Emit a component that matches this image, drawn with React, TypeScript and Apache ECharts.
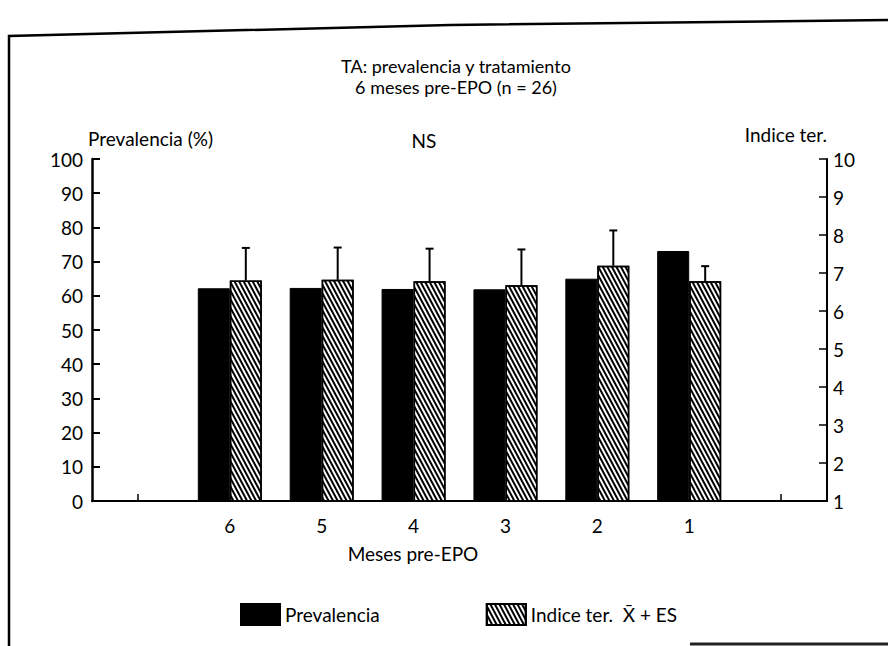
import React, { useEffect, useRef } from "react";
import * as echarts from "echarts";

// ---- data ----
const categories = ["", "6", "5", "4", "3", "2", "1", ""];
const prevalencia = ["-", 62.2, 62.3, 62.0, 61.9, 65.0, 73.1, "-"]; // %
const indiceMedia = ["-", 6.8, 6.82, 6.78, 6.68, 7.19, 6.78, "-"]; // mean
const indiceES = [null, 0.86, 0.85, 0.86, 0.94, 0.93, 0.4, null]; // standard error
const leftAxis = { min: 0, max: 100, interval: 10 };
const rightAxis = { min: 1, max: 10, interval: 1 };

const titleLine1 = "TA: prevalencia y tratamiento";
const titleLine2 = "6 meses pre-EPO (n = 26)";
const nameLeft = "Prevalencia (%)";
const nameRight = "Indice ter.";
const xName = "Meses pre-EPO";
const noteText = "NS";
const seriesNames = ["Prevalencia", "Indice ter.  X\u0304 + ES"];

const FONT = "Lato";
const BAR_W = 32;

export default function App() {
  const ref = useRef<HTMLDivElement>(null);
  useEffect(() => {
    if (!ref.current) return;
    const chart = echarts.init(ref.current, null, { renderer: "svg" });

    const errData: any[] = [];
    categories.forEach((c, i) => {
      const m = indiceMedia[i];
      const e = indiceES[i];
      if (typeof m === "number" && typeof e === "number") {
        errData.push([i, m, m + e]);
      }
    });

    const hatch = {
      symbol: "rect",
      symbolSize: 1,
      dashArrayX: [1, 0],
      dashArrayY: [1.8, 1.8],
      rotation: Math.PI * 62 / 180,
      color: "#000",
      backgroundColor: "#fff",
    };

    const baseText = { fontFamily: FONT, fontSize: 19, color: "#000" };

    const option: any = {
      animation: false,
      backgroundColor: "#fff",
      textStyle: { fontFamily: FONT, color: "#000" },
      title: {
        text: titleLine1,
        subtext: titleLine2,
        left: 451,
        top: 52,
        itemGap: 3,
        textAlign: "center",
        textStyle: { fontFamily: FONT, fontSize: 18, color: "#000", fontWeight: "normal", lineHeight: 18 },
        subtextStyle: { fontFamily: FONT, fontSize: 18, color: "#000", fontWeight: "normal", lineHeight: 18 },
      },
      legend: {
        data: seriesNames,
        left: 235,
        top: 598,
        itemWidth: 39,
        itemHeight: 21,
        itemGap: 106,
        icon: "rect",
        textStyle: { ...baseText },
      },
      grid: { left: 92, right: 61, top: 159, bottom: 145 },
      xAxis: {
        type: "category",
        data: categories,
        boundaryGap: true,
        axisLine: { lineStyle: { color: "#000", width: 2 } },
        axisTick: {
          show: true,
          alignWithLabel: true,
          inside: true,
          length: 7,
          interval: (i: number) => i === 0 || i === categories.length - 1,
          lineStyle: { color: "#000", width: 1.5 },
        },
        axisLabel: { interval: 0, margin: 15, ...baseText },
      },
      yAxis: [
        {
          type: "value",
          position: "left",
          min: leftAxis.min,
          max: leftAxis.max,
          interval: leftAxis.interval,
          name: nameLeft,
          nameLocation: "end",
          nameGap: 11,
          nameTextStyle: { ...baseText, align: "left", padding: [0, 0, 0, -4] },
          axisLine: { show: true, lineStyle: { color: "#000", width: 2.5 } },
          axisTick: { show: true, inside: true, length: 8, lineStyle: { color: "#000", width: 2 } },
          axisLabel: { margin: 9, ...baseText },
          splitLine: { show: false },
        },
        {
          type: "value",
          position: "right",
          min: rightAxis.min,
          max: rightAxis.max,
          interval: rightAxis.interval,
          name: nameRight,
          nameLocation: "end",
          nameGap: 15,
          nameTextStyle: { ...baseText, align: "right" },
          axisLine: { show: true, lineStyle: { color: "#000", width: 2 } },
          axisTick: { show: true, inside: true, length: 8, lineStyle: { color: "#000", width: 1.5 } },
          axisLabel: { margin: 6, ...baseText },
          splitLine: { show: false },
        },
      ],
      series: [
        {
          name: seriesNames[0],
          type: "bar",
          yAxisIndex: 0,
          data: prevalencia,
          barWidth: BAR_W,
          barGap: "0%",
          itemStyle: { color: "#000", borderColor: "#000", borderWidth: 1 },
        },
        {
          name: seriesNames[1],
          type: "bar",
          yAxisIndex: 1,
          data: indiceMedia,
          barWidth: BAR_W,
          barGap: "0%",
          itemStyle: {
            color: "#fff",
            borderColor: "#000",
            borderWidth: 1.5,
            decal: hatch,
          },
        },
        {
          name: "ES",
          type: "custom",
          yAxisIndex: 1,
          data: errData,
          z: 5,
          renderItem: (params: any, api: any) => {
            const x0 = api.value(0);
            const p0 = api.coord([x0, api.value(1)]);
            const p1 = api.coord([x0, api.value(2)]);
            const x = p0[0] + BAR_W / 2;
            return {
              type: "group",
              children: [
                {
                  type: "line",
                  shape: { x1: x, y1: p0[1], x2: x, y2: p1[1] },
                  style: { stroke: "#000", lineWidth: 2 },
                },
                {
                  type: "line",
                  shape: { x1: x - 4, y1: p1[1], x2: x + 4, y2: p1[1] },
                  style: { stroke: "#000", lineWidth: 2 },
                },
              ],
            };
          },
        },
      ],
      graphic: [
        {
          type: "polyline",
          shape: { points: [[9, 646], [9, 36], [450, 25], [888, 20]] },
          style: { stroke: "#000", lineWidth: 2.5, fill: null },
          silent: true,
        },
        {
          type: "line",
          shape: { x1: 690, y1: 644, x2: 888, y2: 644 },
          style: { stroke: "#222", lineWidth: 3 },
          silent: true,
        },
        {
          type: "text",
          x: 424,
          y: 140,
          style: {
            text: noteText,
            fontFamily: FONT,
            fontSize: 19,
            fill: "#000",
            align: "center",
            verticalAlign: "middle",
          },
        },
        {
          type: "text",
          x: 413,
          y: 553,
          style: {
            text: xName,
            fontFamily: FONT,
            fontSize: 19,
            fill: "#000",
            align: "center",
            verticalAlign: "middle",
          },
        },
      ],
    };

    chart.setOption(option);
    return () => chart.dispose();
  }, []);

  return (
    <div
      ref={ref}
      style={{ position: "fixed", left: 0, top: 0, width: 888, height: 646, background: "#fff" }}
    />
  );
}
